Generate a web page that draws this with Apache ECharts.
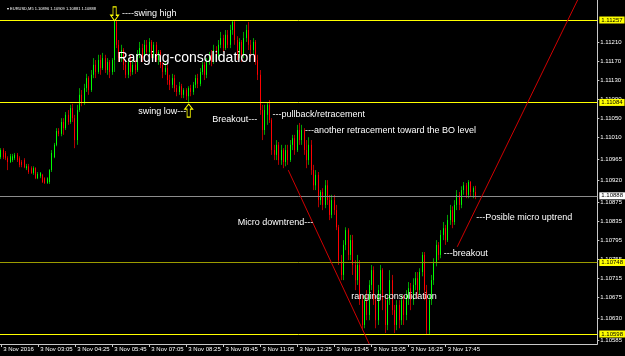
<!DOCTYPE html>
<html><head><meta charset="utf-8">
<script src="https://cdn.jsdelivr.net/npm/echarts@6/dist/echarts.min.js"></script>
<style>html,body{margin:0;padding:0;background:#000;}#c{width:625px;height:356px;}</style>
</head><body><div id="c"></div>
<script>
// ---- data ----
const timeLabels = ['3 Nov 2016','3 Nov 03:05','3 Nov 04:25','3 Nov 05:45','3 Nov 07:05','3 Nov 08:25','3 Nov 09:45','3 Nov 11:05','3 Nov 12:25','3 Nov 13:45','3 Nov 15:05','3 Nov 16:25','3 Nov 17:45'];
const barsPerLabel = 16;
const totalSlots = 258;
const firstBarMinutes = 105; // 01:45

const open = [1.10969,1.10984,1.10978,1.10967,1.10959,1.10963,1.10967,1.10974,1.10967,1.10959,
1.10963,1.10946,1.10950,1.10946,1.10936,1.10946,1.10925,1.10929,1.10932,1.10925,
1.10915,1.10917,1.10942,1.10969,1.10995,1.11024,1.11018,1.11043,1.11030,1.11058,
1.11043,1.11072,1.11051,1.11005,1.11068,1.11100,1.11083,1.11114,1.11135,1.11110,
1.11142,1.11163,1.11148,1.11173,1.11156,1.11177,1.11152,1.11169,1.11148,1.11173,
1.11253,1.11205,1.11177,1.11194,1.11163,1.11142,1.11169,1.11148,1.11163,1.11152,
1.11184,1.11198,1.11177,1.11205,1.11190,1.11211,1.11184,1.11205,1.11173,1.11190,
1.11163,1.11148,1.11156,1.11131,1.11121,1.11135,1.11114,1.11106,1.11118,1.11100,
1.11110,1.11097,1.11114,1.11106,1.11121,1.11135,1.11123,1.11148,1.11163,1.11142,
1.11169,1.11184,1.11169,1.11194,1.11177,1.11205,1.11219,1.11198,1.11226,1.11205,
1.11236,1.11253,1.11215,1.11184,1.11211,1.11184,1.11219,1.11236,1.11205,1.11194,
1.11211,1.11173,1.11142,1.11068,1.11026,1.11058,1.11079,1.11047,1.10984,1.10974,
1.10995,1.10963,1.10984,1.10959,1.10984,1.10963,1.10995,1.11009,1.10984,1.11026,
1.11005,1.11026,1.10984,1.10963,1.10995,1.10942,1.10910,1.10932,1.10879,1.10896,
1.10869,1.10910,1.10879,1.10848,1.10879,1.10858,1.10822,1.10753,1.10722,1.10785,
1.10816,1.10764,1.10795,1.10743,1.10711,1.10743,1.10669,1.10617,1.10669,1.10638,
1.10701,1.10732,1.10669,1.10627,1.10690,1.10732,1.10669,1.10617,1.10669,1.10711,
1.10648,1.10617,1.10659,1.10627,1.10669,1.10638,1.10673,1.10694,1.10669,1.10701,
1.10715,1.10690,1.10728,1.10764,1.10690,1.10606,1.10669,1.10711,1.10749,1.10785,
1.10764,1.10806,1.10820,1.10795,1.10837,1.10858,1.10833,1.10869,1.10890,1.10869,
1.10900,1.10910,1.10890,1.10917,1.10896,1.10896];

const close = [1.10984,1.10969,1.10967,1.10959,1.10971,1.10971,1.10974,1.10963,1.10953,1.10953,
1.10948,1.10950,1.10938,1.10936,1.10946,1.10925,1.10934,1.10936,1.10917,1.10915,
1.10925,1.10942,1.10978,1.10995,1.11024,1.11018,1.11043,1.11030,1.11058,1.11043,
1.11072,1.11051,1.11005,1.11068,1.11100,1.11083,1.11114,1.11135,1.11110,1.11142,
1.11163,1.11148,1.11173,1.11156,1.11177,1.11152,1.11169,1.11148,1.11173,1.11253,
1.11205,1.11177,1.11194,1.11163,1.11142,1.11169,1.11148,1.11163,1.11152,1.11184,
1.11198,1.11177,1.11205,1.11190,1.11211,1.11184,1.11205,1.11173,1.11190,1.11163,
1.11148,1.11156,1.11131,1.11121,1.11135,1.11114,1.11106,1.11118,1.11100,1.11110,
1.11097,1.11114,1.11106,1.11121,1.11135,1.11123,1.11148,1.11163,1.11142,1.11169,
1.11184,1.11169,1.11194,1.11177,1.11205,1.11219,1.11198,1.11226,1.11205,1.11236,
1.11253,1.11215,1.11184,1.11211,1.11184,1.11219,1.11236,1.11205,1.11194,1.11211,
1.11173,1.11142,1.11068,1.11026,1.11068,1.11079,1.11047,1.10984,1.10974,1.10995,
1.10963,1.10984,1.10959,1.10984,1.10963,1.10995,1.11009,1.10984,1.11026,1.11005,
1.11026,1.10984,1.10963,1.10995,1.10942,1.10910,1.10932,1.10879,1.10896,1.10869,
1.10910,1.10879,1.10848,1.10879,1.10858,1.10822,1.10753,1.10722,1.10785,1.10816,
1.10764,1.10795,1.10743,1.10711,1.10743,1.10669,1.10617,1.10669,1.10638,1.10701,
1.10732,1.10669,1.10627,1.10690,1.10732,1.10669,1.10617,1.10669,1.10711,1.10648,
1.10617,1.10659,1.10627,1.10669,1.10638,1.10680,1.10694,1.10669,1.10701,1.10715,
1.10690,1.10728,1.10764,1.10690,1.10606,1.10669,1.10711,1.10749,1.10785,1.10764,
1.10806,1.10820,1.10795,1.10837,1.10858,1.10833,1.10869,1.10890,1.10869,1.10900,
1.10910,1.10890,1.10917,1.10896,1.10904,1.10888];

const high = [1.10988,1.10988,1.10982,1.10971,1.10976,1.10976,1.10978,1.10978,1.10971,1.10963,
1.10967,1.10955,1.10955,1.10950,1.10950,1.10948,1.10938,1.10938,1.10934,1.10927,
1.10927,1.10944,1.10984,1.10999,1.11030,1.11030,1.11051,1.11051,1.11064,1.11068,
1.11079,1.11081,1.11058,1.11079,1.11114,1.11110,1.11123,1.11144,1.11139,1.11152,
1.11177,1.11173,1.11184,1.11184,1.11188,1.11184,1.11177,1.11173,1.11177,1.11257,
1.11255,1.11215,1.11205,1.11198,1.11173,1.11177,1.11184,1.11173,1.11173,1.11194,
1.11211,1.11207,1.11215,1.11215,1.11219,1.11215,1.11211,1.11211,1.11194,1.11194,
1.11169,1.11169,1.11163,1.11142,1.11144,1.11142,1.11121,1.11127,1.11123,1.11114,
1.11114,1.11118,1.11121,1.11127,1.11142,1.11144,1.11156,1.11169,1.11169,1.11177,
1.11190,1.11194,1.11205,1.11202,1.11215,1.11232,1.11226,1.11236,1.11236,1.11247,
1.11257,1.11255,1.11223,1.11219,1.11215,1.11232,1.11247,1.11253,1.11215,1.11219,
1.11215,1.11184,1.11152,1.11079,1.11079,1.11085,1.11089,1.11051,1.10995,1.11005,
1.11001,1.10995,1.10988,1.10995,1.10995,1.11005,1.11016,1.11016,1.11037,1.11041,
1.11037,1.11030,1.11005,1.11011,1.11005,1.10953,1.10942,1.10938,1.10900,1.10904,
1.10921,1.10921,1.10890,1.10890,1.10890,1.10869,1.10827,1.10764,1.10795,1.10822,
1.10820,1.10806,1.10806,1.10753,1.10764,1.10753,1.10680,1.10680,1.10690,1.10711,
1.10743,1.10740,1.10680,1.10701,1.10743,1.10736,1.10680,1.10680,1.10732,1.10722,
1.10659,1.10669,1.10669,1.10680,1.10680,1.10690,1.10707,1.10705,1.10715,1.10728,
1.10728,1.10736,1.10770,1.10770,1.10701,1.10680,1.10722,1.10757,1.10795,1.10791,
1.10816,1.10833,1.10827,1.10848,1.10869,1.10866,1.10879,1.10900,1.10896,1.10908,
1.10917,1.10915,1.10921,1.10919,1.10908,1.10909];

const low = [1.10965,1.10965,1.10963,1.10942,1.10957,1.10959,1.10963,1.10959,1.10948,1.10948,
1.10946,1.10942,1.10934,1.10934,1.10932,1.10923,1.10923,1.10925,1.10915,1.10913,
1.10913,1.10913,1.10938,1.10967,1.10992,1.11013,1.11013,1.11016,1.11026,1.11037,
1.11039,1.11043,1.10988,1.10995,1.11064,1.11076,1.11079,1.11106,1.11100,1.11106,
1.11135,1.11135,1.11144,1.11142,1.11152,1.11146,1.11142,1.11135,1.11142,1.11148,
1.11198,1.11169,1.11169,1.11152,1.11135,1.11135,1.11139,1.11142,1.11144,1.11148,
1.11177,1.11169,1.11173,1.11184,1.11184,1.11177,1.11177,1.11169,1.11163,1.11156,
1.11135,1.11142,1.11121,1.11110,1.11114,1.11106,1.11097,1.11100,1.11093,1.11093,
1.11089,1.11085,1.11097,1.11100,1.11114,1.11114,1.11118,1.11142,1.11131,1.11135,
1.11163,1.11160,1.11165,1.11169,1.11173,1.11198,1.11190,1.11194,1.11198,1.11198,
1.11226,1.11205,1.11173,1.11177,1.11169,1.11177,1.11211,1.11194,1.11177,1.11184,
1.11163,1.11131,1.11058,1.11005,1.11016,1.11037,1.11041,1.10974,1.10963,1.10963,
1.10953,1.10953,1.10946,1.10950,1.10953,1.10959,1.10984,1.10974,1.10980,1.10995,
1.10995,1.10974,1.10946,1.10953,1.10932,1.10900,1.10900,1.10864,1.10869,1.10858,
1.10862,1.10869,1.10837,1.10841,1.10848,1.10816,1.10743,1.10711,1.10711,1.10774,
1.10753,1.10753,1.10722,1.10690,1.10701,1.10659,1.10606,1.10610,1.10627,1.10627,
1.10690,1.10659,1.10610,1.10617,1.10680,1.10648,1.10600,1.10606,1.10659,1.10638,
1.10600,1.10606,1.10610,1.10617,1.10617,1.10627,1.10659,1.10648,1.10659,1.10690,
1.10673,1.10680,1.10719,1.10669,1.10598,1.10598,1.10659,1.10701,1.10740,1.10753,
1.10757,1.10795,1.10785,1.10791,1.10827,1.10820,1.10827,1.10858,1.10858,1.10862,
1.10890,1.10883,1.10883,1.10887,1.10883,1.10881];

const yTicks = [1.11210,1.11170,1.11130,1.11090,1.11050,1.11010,1.10965,1.10920,1.10875,1.10835,1.10795,1.10755,1.10715,1.10675,1.10630,1.10585];
const yMin = 1.10577, yMax = 1.11299;
const yellowLevels = [1.11257, 1.11084, 1.10598];
const oliveLevels = [1.10748];
const currentPrice = 1.10888;
const downTrend = [[124, 1.10942], [159, 1.10577]];
const upTrend = [[197, 1.10781], [249, 1.11299]];
const notes = [
  ['----swing high', 51.6, 1.11270],
  ['swing low---', 58.6, 1.11064],
  ['Breakout---', 91.3, 1.11049],
  ['---pullback/retracement', 116.7, 1.11058],
  ['---another retracement toward the BO level', 131, 1.11025],
  ['Micro downtrend---', 101.7, 1.10831],
  ['ranging-consolidation', 151.1, 1.10677],
  ['---breakout', 191.3, 1.10766],
  ['---Posible micro uptrend', 204.7, 1.10843]
];
const bigNote = ['Ranging-consolidation', 49.9, 1.11177];
const arrowDown = [49.3, 1.11270];
const arrowUp = [81, 1.11067];

// ---- build ----
const slots = [];
for (let i = 0; i < totalSlots; i++) {
  const m = firstBarMinutes + 5 * i;
  slots.push(String(Math.floor(m / 60) % 24).padStart(2, '0') + ':' + String(m % 60).padStart(2, '0'));
}
const candles = open.map((o, i) => [o, close[i], low[i], high[i]]);
const bodies = open.map((o, i) => [o, close[i], Math.min(o, close[i]), Math.max(o, close[i])]);
const last = open.length - 1;
const isLabelled = (i) => i % barsPerLabel === 0 && i / barsPerLabel < timeLabels.length;
const FONT = 'Liberation Sans, Arial, sans-serif';

const levelLabel = (bg) => ({
  show: true, position: 'end', distance: 2,
  formatter: (p) => Number(p.value).toFixed(5),
  backgroundColor: bg, color: '#000', fontSize: 6, fontFamily: FONT,
  padding: [1, 2, 0, 2]
});

const levelLines = [];
yellowLevels.forEach(v => levelLines.push({ yAxis: v, lineStyle: { color: '#ffff00', width: 1, type: 'solid' }, label: levelLabel('#ffff00') }));
oliveLevels.forEach(v => levelLines.push({ yAxis: v, lineStyle: { color: '#9c9c00', width: 1, type: 'solid' }, label: levelLabel('#ffff00') }));
levelLines.push({ yAxis: currentPrice, lineStyle: { color: '#8c8c8c', width: 1, type: 'solid' }, label: levelLabel('#ffffff') });

const trendLines = [downTrend, upTrend].map(t => [
  { coord: t[0], lineStyle: { color: '#d00000', width: 1, type: 'solid' }, label: { show: false } },
  { coord: t[1] }
]);

const markPointData = notes.map(n => ({
  coord: [n[1], n[2]], symbol: 'circle', symbolSize: 1,
  itemStyle: { color: 'rgba(0,0,0,0)' },
  label: { show: true, position: 'right', distance: 0, formatter: n[0], color: '#ffffff', fontSize: 9, fontFamily: FONT }
}));
markPointData.push({
  coord: [bigNote[1], bigNote[2]], symbol: 'circle', symbolSize: 1,
  itemStyle: { color: 'rgba(0,0,0,0)' },
  label: { show: true, position: 'right', distance: 0, formatter: bigNote[0], color: '#ffffff', fontSize: 14, fontFamily: FONT }
});
markPointData.push({
  coord: arrowDown, symbol: 'path://M3,0 L7,0 L7,9 L10,9 L5,15 L0,9 L3,9 Z', symbolSize: [8, 14],
  itemStyle: { color: 'rgba(0,0,0,0)', borderColor: '#ffff00', borderWidth: 1 }, label: { show: false }
});
markPointData.push({
  coord: arrowUp, symbol: 'path://M5,0 L10,6 L7,6 L7,15 L3,15 L3,6 L0,6 Z', symbolSize: [8, 13],
  itemStyle: { color: 'rgba(0,0,0,0)', borderColor: '#ffff00', borderWidth: 1 }, label: { show: false }
});

const chart = echarts.init(document.getElementById('c'), null, { renderer: 'canvas' });
chart.setOption({
  backgroundColor: '#000000',
  animation: false,
  title: {
    text: '\u25BE EURUSD,M5 ' + [open[last], high[last], low[last], close[last]].map(v => v.toFixed(5)).join(' '),
    left: 2, top: 2,
    textStyle: { color: '#ffffff', fontSize: 4, fontWeight: 'normal', fontFamily: FONT }
  },
  grid: { left: 0, right: 26, top: 0, bottom: 12, containLabel: false },
  xAxis: {
    type: 'category', data: slots, boundaryGap: true,
    axisLine: { show: true, lineStyle: { color: '#c8c8c8', width: 1 } },
    axisTick: { show: true, interval: (i) => isLabelled(i), alignWithLabel: true, length: 3, lineStyle: { color: '#c8c8c8' } },
    axisLabel: {
      show: true, interval: (i) => isLabelled(i),
      formatter: (v, i) => isLabelled(i) ? timeLabels[i / barsPerLabel] : '',
      color: '#ffffff', fontSize: 6, fontFamily: FONT, align: 'left', padding: [0, 0, 0, 2], margin: 2
    },
    splitLine: { show: false }
  },
  yAxis: {
    type: 'value', position: 'right', min: yMin, max: yMax, scale: true,
    axisLine: { show: true, lineStyle: { color: '#c8c8c8', width: 1 } },
    axisTick: { show: true, customValues: yTicks, length: 2, lineStyle: { color: '#c8c8c8' } },
    axisLabel: { show: true, customValues: yTicks, formatter: (v) => Number(v).toFixed(5), color: '#ffffff', fontSize: 6, fontFamily: FONT, margin: 3 },
    splitLine: { show: false }
  },
  series: [
    {
      type: 'line', data: [], silent: true, symbol: 'none',
      markLine: { silent: true, precision: 6, symbol: ['none', 'none'], animation: false, data: levelLines.concat(trendLines) }
    },
    {
      // wicks (full high-low range)
      type: 'candlestick', data: candles, barWidth: 1, silent: true,
      itemStyle: { color: '#00a000', color0: '#b00000', borderColor: '#00a000', borderColor0: '#b00000', borderWidth: 1 }
    },
    {
      // bright bodies (open-close range)
      type: 'candlestick', data: bodies, barWidth: 1, silent: true,
      itemStyle: { color: '#00ff00', color0: '#ff0000', borderColor: '#00ff00', borderColor0: '#ff0000', borderWidth: 1 },
      markPoint: { silent: true, animation: false, data: markPointData }
    }
  ]
});
</script>
</body></html>
